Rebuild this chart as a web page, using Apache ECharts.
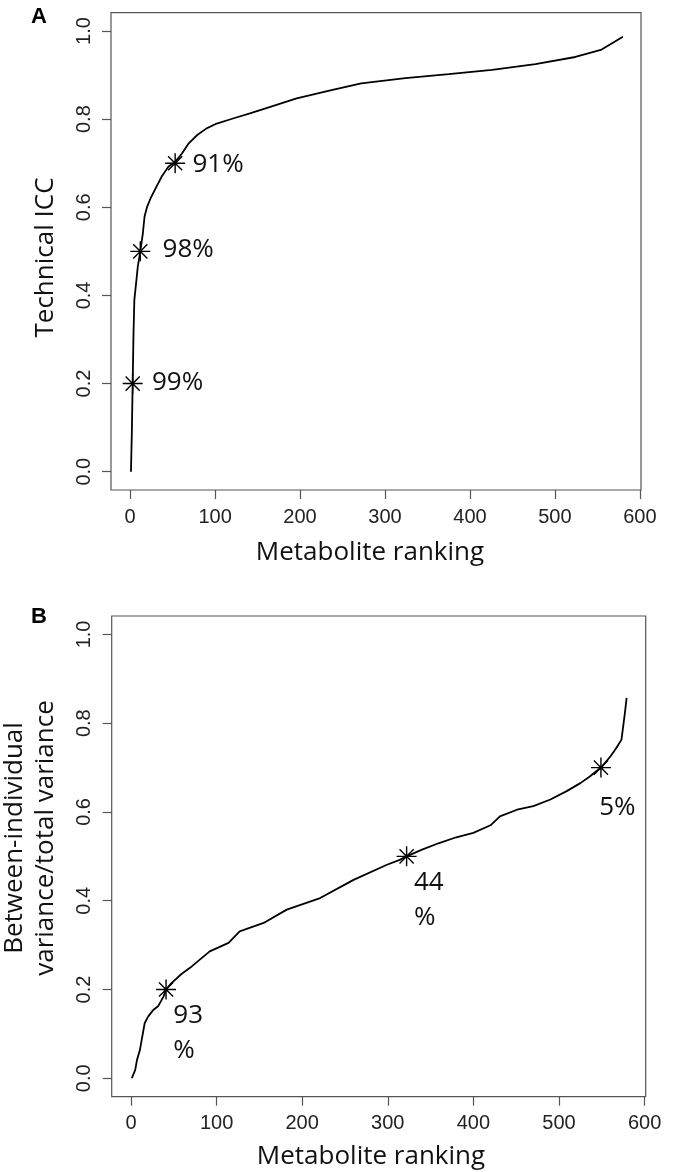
<!DOCTYPE html>
<html>
<head>
<meta charset="utf-8">
<script src="https://cdn.jsdelivr.net/npm/echarts@6/dist/echarts.min.js"></script>
<style>
html,body{margin:0;padding:0;background:#fff;}
#chart{width:682px;height:1172px;}
</style>
</head>
<body>
<div id="chart"></div>
<script>
// ---- data ----
const xTicks = [0, 100, 200, 300, 400, 500, 600];
const yTicks = [0, 0.2, 0.4, 0.6, 0.8, 1.0];

const rankA = [1, 2, 3, 4, 5, 7, 9, 12, 15, 17, 20, 24, 30, 37, 45, 53, 61, 69, 79, 90, 102, 122, 141, 165, 196, 237, 272, 324, 375, 426, 477, 524, 554, 580];
const iccA  = [0.0, 0.087, 0.2, 0.314, 0.39, 0.427, 0.465, 0.5, 0.541, 0.579, 0.601, 0.62, 0.643, 0.669, 0.692, 0.703, 0.722, 0.745, 0.764, 0.779, 0.79, 0.802, 0.813, 0.828, 0.847, 0.866, 0.881, 0.893, 0.902, 0.912, 0.925, 0.941, 0.957, 0.987];

const rankB  = [1, 3, 5, 7, 10.5, 12.5, 16, 20, 26, 32, 38, 41, 47, 59, 71, 92, 114, 127, 155, 182, 221, 260, 299, 314, 322, 340, 360, 380, 400, 420, 431, 451, 470, 490, 509, 525, 536, 549, 560, 567, 573, 575, 577, 579];
const ratioB = [0.0, 0.004, 0.019, 0.041, 0.064, 0.086, 0.124, 0.139, 0.154, 0.163, 0.184, 0.2, 0.214, 0.235, 0.252, 0.286, 0.305, 0.331, 0.35, 0.38, 0.406, 0.447, 0.481, 0.492, 0.5, 0.515, 0.53, 0.543, 0.553, 0.57, 0.59, 0.605, 0.613, 0.628, 0.647, 0.665, 0.68, 0.7, 0.725, 0.744, 0.763, 0.793, 0.823, 0.857];

const markRankA = [53, 12, 3];
const markValA  = [0.7, 0.5, 0.2];
const markTextA = ['91%', '98%', '99%'];

const markRankB = [41, 322, 549];
const markValB  = [0.2, 0.5, 0.7];
const markTextB = ['93\n%', '44\n%', '5%'];

const xNameA = 'Metabolite ranking';
const yNameA = 'Technical ICC';
const xNameB = 'Metabolite ranking';
const yNameB = 'Between-individual\nvariance/total variance';
const panelA = 'A';
const panelB = 'B';

// ---- layout / style ----
const labelOffA = [[18, -15.7], [23, -18.2], [20, -17.8]];
const labelOffB = [[8, 9.7], [8, 9.7], [-1, 22.8]];
const STAR = 'path://M10,0L10,20M0,10L20,10M2.93,2.93L17.07,17.07M2.93,17.07L17.07,2.93';
const SYM = 20;
const AX = '#555';
const TICKFONT = 'Liberation Sans, Arial, sans-serif';
const TXTFONT = 'Open Sans, sans-serif';
const NAMEFONT = '26px Open Sans, sans-serif';

function pairs(xs, ys) { return xs.map((x, i) => [x, ys[i]]); }
function marks(xs, ys, texts, offs) {
  return xs.map((x, i) => ({
    value: [x, ys[i]],
    label: { formatter: texts[i], position: [offs[i][0] + SYM / 2, offs[i][1] + SYM / 2] }
  }));
}

function xAxis(gridIndex) {
  return {
    type: 'value', gridIndex, min: -22.5, max: 601.3,
    axisLine: { show: false, onZero: false },
    axisTick: { show: true, inside: false, length: 9, customValues: xTicks, lineStyle: { color: AX, width: 1.2 } },
    axisLabel: { show: true, customValues: xTicks, margin: 17, fontSize: 20, fontFamily: TICKFONT, color: '#222', hideOverlap: false },
    splitLine: { show: false }
  };
}
function yAxis(gridIndex) {
  return {
    type: 'value', gridIndex, min: -0.0415, max: 1.0415,
    axisLine: { show: false, onZero: false },
    axisTick: { show: true, inside: false, length: 9, customValues: yTicks, lineStyle: { color: AX, width: 1.2 } },
    axisLabel: { show: true, customValues: yTicks, rotate: 90, margin: 17, fontSize: 20, fontFamily: TICKFONT, color: '#222', hideOverlap: false,
      formatter: v => v.toFixed(1) },
    splitLine: { show: false }
  };
}

function vText(text, x, y) {
  return { type: 'text', x, y, rotation: Math.PI / 2, silent: true,
    style: { text, font: NAMEFONT, fill: '#111', align: 'center', verticalAlign: 'middle', lineHeight: 31 } };
}
function hText(text, x, y) {
  return { type: 'text', x, y, silent: true,
    style: { text, font: NAMEFONT, fill: '#111', align: 'center', verticalAlign: 'middle' } };
}
function letter(text, x, y) {
  return { type: 'text', x, y, silent: true,
    style: { text, font: 'bold 22px Liberation Sans, Arial, sans-serif', fill: '#000', align: 'center', verticalAlign: 'middle' } };
}

const labelStyle = { show: true, align: 'left', verticalAlign: 'top', fontSize: 26, lineHeight: 35, fontFamily: TXTFONT, color: '#111' };

const option = {
  animation: false,
  backgroundColor: '#fff',
  grid: [
    { left: 111, top: 12.7, width: 530, height: 477.3, show: true, borderColor: AX, borderWidth: 1.2, backgroundColor: 'transparent', outerBoundsMode: 'none' },
    { left: 111.7, top: 616, width: 534, height: 480.7, show: true, borderColor: AX, borderWidth: 1.2, backgroundColor: 'transparent', outerBoundsMode: 'none' }
  ],
  xAxis: [xAxis(0), xAxis(1)],
  yAxis: [yAxis(0), yAxis(1)],
  graphic: [
    letter(panelA, 39, 17),
    letter(panelB, 39, 617),
    vText(yNameA, 45.6, 257.5),
    vText(yNameB, 30.1, 838),
    hText(xNameA, 370, 553),
    hText(xNameB, 371, 1157)
  ],
  series: [
    { type: 'line', xAxisIndex: 0, yAxisIndex: 0, data: pairs(rankA, iccA), showSymbol: false, silent: true,
      lineStyle: { color: '#000', width: 1.8 }, z: 2 },
    { type: 'line', xAxisIndex: 1, yAxisIndex: 1, data: pairs(rankB, ratioB), showSymbol: false, silent: true,
      lineStyle: { color: '#000', width: 1.8 }, z: 2 },
    { type: 'scatter', xAxisIndex: 0, yAxisIndex: 0, data: marks(markRankA, markValA, markTextA, labelOffA),
      symbol: STAR, symbolSize: SYM, symbolKeepAspect: true,
      itemStyle: { color: '#000', borderColor: '#000', borderWidth: 1.4, opacity: 1 },
      label: labelStyle, z: 3 },
    { type: 'scatter', xAxisIndex: 1, yAxisIndex: 1, data: marks(markRankB, markValB, markTextB, labelOffB),
      symbol: STAR, symbolSize: SYM, symbolKeepAspect: true,
      itemStyle: { color: '#000', borderColor: '#000', borderWidth: 1.4, opacity: 1 },
      label: labelStyle, z: 3 }
  ]
};

const chart = echarts.init(document.getElementById('chart'), null, { renderer: 'canvas', width: 682, height: 1172 });
chart.setOption(option);
</script>
</body>
</html>
